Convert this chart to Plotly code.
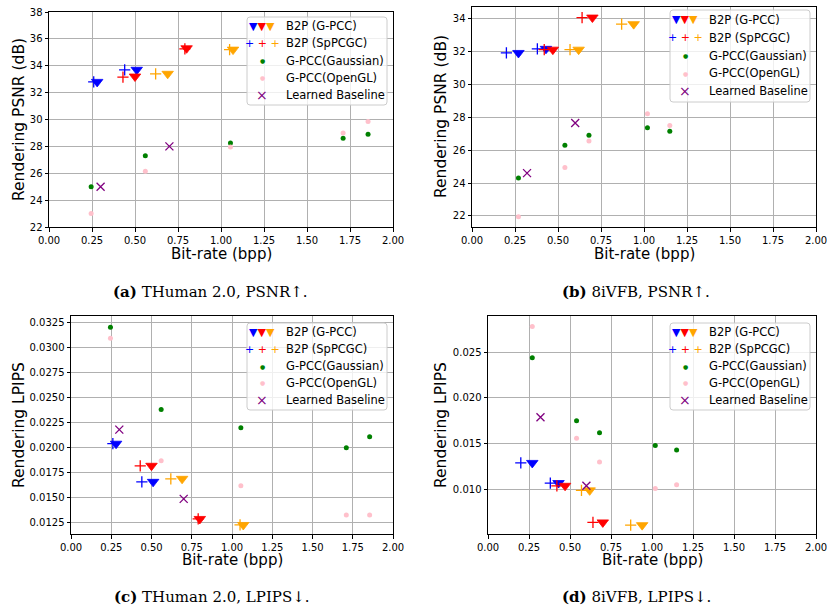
import plotly.graph_objects as go

W, H = 827, 612

# ---------------- data ----------------
# (a) THuman 2.0, PSNR
a_gpcc_blue_x, a_gpcc_blue_y = [0.28, 0.51], [32.8, 33.7]
a_gpcc_red_x, a_gpcc_red_y = [0.50, 0.80], [33.2, 35.3]
a_gpcc_orange_x, a_gpcc_orange_y = [0.69, 1.07], [33.4, 35.2]
a_sp_blue_x, a_sp_blue_y = [0.26, 0.44], [32.8, 33.7]
a_sp_red_x, a_sp_red_y = [0.43, 0.79], [33.15, 35.25]
a_sp_orange_x, a_sp_orange_y = [0.62, 1.05], [33.4, 35.2]
a_gauss_x, a_gauss_y = [0.245, 0.56, 1.055, 1.71, 1.855], [25.0, 27.3, 28.25, 28.6, 28.9]
a_ogl_x, a_ogl_y = [0.245, 0.56, 1.055, 1.71, 1.855], [23.0, 26.15, 27.95, 29.0, 29.85]
a_learn_x, a_learn_y = [0.30, 0.70], [25.0, 28.0]

# (b) 8iVFB, PSNR
b_gpcc_blue_x, b_gpcc_blue_y = [0.27, 0.43], [31.9, 32.15]
b_gpcc_red_x, b_gpcc_red_y = [0.47, 0.70], [32.1, 34.05]
b_gpcc_orange_x, b_gpcc_orange_y = [0.62, 0.94], [32.1, 33.65]
b_sp_blue_x, b_sp_blue_y = [0.20, 0.38], [31.9, 32.15]
b_sp_red_x, b_sp_red_y = [0.42, 0.64], [32.1, 34.05]
b_sp_orange_x, b_sp_orange_y = [0.57, 0.87], [32.1, 33.65]
b_gauss_x, b_gauss_y = [0.27, 0.54, 0.68, 1.02, 1.15], [24.3, 26.3, 26.9, 27.35, 27.15]
b_ogl_x, b_ogl_y = [0.27, 0.54, 0.68, 1.02, 1.15], [21.95, 24.95, 26.55, 28.2, 27.5]
b_learn_x, b_learn_y = [0.32, 0.60], [24.6, 27.65]

# (c) THuman 2.0, LPIPS
c_gpcc_blue_x, c_gpcc_blue_y = [0.28, 0.51], [0.0204, 0.0166]
c_gpcc_red_x, c_gpcc_red_y = [0.50, 0.80], [0.0182, 0.0129]
c_gpcc_orange_x, c_gpcc_orange_y = [0.69, 1.07], [0.0169, 0.0123]
c_sp_blue_x, c_sp_blue_y = [0.26, 0.44], [0.0204, 0.0166]
c_sp_red_x, c_sp_red_y = [0.43, 0.79], [0.0182, 0.0129]
c_sp_orange_x, c_sp_orange_y = [0.62, 1.05], [0.0169, 0.0123]
c_gauss_x, c_gauss_y = [0.245, 0.56, 1.055, 1.71, 1.855], [0.0320, 0.0238, 0.0220, 0.0200, 0.0211]
c_ogl_x, c_ogl_y = [0.245, 0.56, 1.055, 1.71, 1.855], [0.0309, 0.0187, 0.0162, 0.0133, 0.0133]
c_learn_x, c_learn_y = [0.30, 0.70], [0.0218, 0.0149]

# (d) 8iVFB, LPIPS
d_gpcc_blue_x, d_gpcc_blue_y = [0.27, 0.43], [0.0129, 0.0107]
d_gpcc_red_x, d_gpcc_red_y = [0.47, 0.70], [0.0104, 0.0064]
d_gpcc_orange_x, d_gpcc_orange_y = [0.62, 0.94], [0.0099, 0.0061]
d_sp_blue_x, d_sp_blue_y = [0.20, 0.38], [0.0129, 0.0107]
d_sp_red_x, d_sp_red_y = [0.42, 0.64], [0.0104, 0.0064]
d_sp_orange_x, d_sp_orange_y = [0.57, 0.87], [0.0099, 0.0061]
d_gauss_x, d_gauss_y = [0.27, 0.54, 0.68, 1.02, 1.15], [0.0244, 0.0175, 0.0162, 0.0148, 0.0143]
d_ogl_x, d_ogl_y = [0.27, 0.54, 0.68, 1.02, 1.15], [0.0278, 0.0156, 0.0130, 0.0101, 0.0105]
d_learn_x, d_learn_y = [0.32, 0.60], [0.0179, 0.0104]

legend_labels = ["B2P (G-PCC)", "B2P (SpPCGC)", "G-PCC(Gaussian)", "G-PCC(OpenGL)", "Learned Baseline"]
x_title = "Bit-rate (bpp)"
y_titles = {"a": "Rendering PSNR (dB)", "b": "Rendering PSNR (dB)", "c": "Rendering LPIPS", "d": "Rendering LPIPS"}
captions = {"a": "<b>(a)</b> THuman 2.0, PSNR↑.", "b": "<b>(b)</b> 8iVFB, PSNR↑.",
            "c": "<b>(c)</b> THuman 2.0, LPIPS↓.", "d": "<b>(d)</b> 8iVFB, LPIPS↓."}

BLUE, RED, ORANGE = "#0000FF", "#FF0000", "#FFA500"
GREEN, PINK, PURPLE = "#008000", "#FFC0CB", "#800080"

panel_data = {
    "a": [(a_gpcc_blue_x, a_gpcc_blue_y, "tri", BLUE), (a_gpcc_red_x, a_gpcc_red_y, "tri", RED),
          (a_gpcc_orange_x, a_gpcc_orange_y, "tri", ORANGE), (a_sp_blue_x, a_sp_blue_y, "plus", BLUE),
          (a_sp_red_x, a_sp_red_y, "plus", RED), (a_sp_orange_x, a_sp_orange_y, "plus", ORANGE),
          (a_gauss_x, a_gauss_y, "dot", GREEN), (a_ogl_x, a_ogl_y, "dot", PINK),
          (a_learn_x, a_learn_y, "x", PURPLE)],
    "b": [(b_gpcc_blue_x, b_gpcc_blue_y, "tri", BLUE), (b_gpcc_red_x, b_gpcc_red_y, "tri", RED),
          (b_gpcc_orange_x, b_gpcc_orange_y, "tri", ORANGE), (b_sp_blue_x, b_sp_blue_y, "plus", BLUE),
          (b_sp_red_x, b_sp_red_y, "plus", RED), (b_sp_orange_x, b_sp_orange_y, "plus", ORANGE),
          (b_gauss_x, b_gauss_y, "dot", GREEN), (b_ogl_x, b_ogl_y, "dot", PINK),
          (b_learn_x, b_learn_y, "x", PURPLE)],
    "c": [(c_gpcc_blue_x, c_gpcc_blue_y, "tri", BLUE), (c_gpcc_red_x, c_gpcc_red_y, "tri", RED),
          (c_gpcc_orange_x, c_gpcc_orange_y, "tri", ORANGE), (c_sp_blue_x, c_sp_blue_y, "plus", BLUE),
          (c_sp_red_x, c_sp_red_y, "plus", RED), (c_sp_orange_x, c_sp_orange_y, "plus", ORANGE),
          (c_gauss_x, c_gauss_y, "dot", GREEN), (c_ogl_x, c_ogl_y, "dot", PINK),
          (c_learn_x, c_learn_y, "x", PURPLE)],
    "d": [(d_gpcc_blue_x, d_gpcc_blue_y, "tri", BLUE), (d_gpcc_red_x, d_gpcc_red_y, "tri", RED),
          (d_gpcc_orange_x, d_gpcc_orange_y, "tri", ORANGE), (d_sp_blue_x, d_sp_blue_y, "plus", BLUE),
          (d_sp_red_x, d_sp_red_y, "plus", RED), (d_sp_orange_x, d_sp_orange_y, "plus", ORANGE),
          (d_gauss_x, d_gauss_y, "dot", GREEN), (d_ogl_x, d_ogl_y, "dot", PINK),
          (d_learn_x, d_learn_y, "x", PURPLE)],
}

# ---------------- layout geometry (pixels) ----------------
boxes = {"a": (49, 393, 12, 227), "b": (472, 816, 7, 227),
         "c": (71, 393, 316, 534), "d": (488, 816, 316, 534)}
yranges = {"a": [22, 38], "b": [21.33, 34.69], "c": [0.01140, 0.03313], "d": [0.00513, 0.02896]}
ytickvals = {"a": [22, 24, 26, 28, 30, 32, 34, 36, 38],
             "b": [22, 24, 26, 28, 30, 32, 34],
             "c": [0.0125, 0.0150, 0.0175, 0.0200, 0.0225, 0.0250, 0.0275, 0.0300, 0.0325],
             "d": [0.010, 0.015, 0.020, 0.025]}
ytickfmt = {"a": "d", "b": "d", "c": ".4f", "d": ".3f"}
legend_boxes = {"a": (247, 387, 17, 105), "b": (670, 810, 10, 102),
                "c": (247, 387, 323, 410), "d": (670, 810, 323, 410)}
xtitle_pos = {"a": (221, 254), "b": (644, 254), "c": (232, 560), "d": (652, 560)}
ytitle_pos = {"a": (19, 120), "b": (441, 117), "c": (19, 425), "d": (441, 425)}
caption_pos = {"a": (210, 292), "b": (636, 292), "c": (212, 597), "d": (636, 597)}


def px(x):
    return x / W


def py(y):
    return 1 - y / H


fig = go.Figure()
FONT = "DejaVu Sans"
annotations = []
shapes = []

for i, key in enumerate(["a", "b", "c", "d"]):
    n = "" if i == 0 else str(i + 1)
    xa, ya = "x" + n, "y" + n
    for xs, ys, kind, col in panel_data[key]:
        if kind == "tri":
            marker = dict(symbol="triangle-down", size=10, color=col, line=dict(width=0.8, color=col))
        elif kind == "plus":
            marker = dict(symbol="cross-thin", size=8, color=col, line=dict(width=1.3, color=col))
        elif kind == "dot":
            marker = dict(symbol="circle", size=5, color=col, line=dict(width=0))
        else:
            marker = dict(symbol="x-thin", size=8, color=col, line=dict(width=1.3, color=col))
        fig.add_trace(go.Scatter(x=xs, y=ys, mode="markers", marker=marker, showlegend=False,
                                 xaxis=xa, yaxis=ya, cliponaxis=False, hoverinfo="skip"))
    l, r, t, b = boxes[key]
    axis_common = dict(showline=True, mirror=True, linecolor="black", linewidth=1,
                       ticks="outside", ticklen=3.5, tickwidth=1, tickcolor="black",
                       showgrid=True, gridcolor="#b0b0b0", gridwidth=1, zeroline=False,
                       automargin=False, ticklabeloverflow="allow",
                       tickfont=dict(family=FONT, size=10, color="black"))
    fig.layout["xaxis" + n] = dict(domain=[px(l), px(r)], range=[0, 2], tickmode="array",
                                   tickvals=[0, 0.25, 0.5, 0.75, 1.0, 1.25, 1.5, 1.75, 2.0],
                                   tickformat=".2f", anchor=ya, **axis_common)
    fig.layout["yaxis" + n] = dict(domain=[py(b), py(t)], range=yranges[key], tickmode="array",
                                   tickvals=ytickvals[key], tickformat=ytickfmt[key], anchor=xa,
                                   **axis_common)

    # axis titles
    xt = xtitle_pos[key]
    annotations.append(dict(x=px(xt[0]), y=py(xt[1]), xref="paper", yref="paper", text=x_title,
                            showarrow=False, xanchor="center", yanchor="middle",
                            font=dict(family=FONT, size=15, color="black")))
    yt = ytitle_pos[key]
    annotations.append(dict(x=px(yt[0]), y=py(yt[1]), xref="paper", yref="paper", text=y_titles[key],
                            showarrow=False, textangle=-90, xanchor="center", yanchor="middle",
                            font=dict(family=FONT, size=15.5, color="black")))
    cp = caption_pos[key]
    annotations.append(dict(x=px(cp[0]), y=py(cp[1]), xref="paper", yref="paper", text=captions[key],
                            showarrow=False, xanchor="center", yanchor="middle",
                            font=dict(family="DejaVu Serif", size=15, color="black")))

    # legend box
    lx0, lx1, ly0, ly1 = legend_boxes[key]
    rr = 3

    def P(x, y):
        return f"{px(x):.5f},{py(y):.5f}"
    path = (f"M {P(lx0 + rr, ly0)} L {P(lx1 - rr, ly0)} Q {P(lx1, ly0)} {P(lx1, ly0 + rr)} "
            f"L {P(lx1, ly1 - rr)} Q {P(lx1, ly1)} {P(lx1 - rr, ly1)} "
            f"L {P(lx0 + rr, ly1)} Q {P(lx0, ly1)} {P(lx0, ly1 - rr)} "
            f"L {P(lx0, ly0 + rr)} Q {P(lx0, ly0)} {P(lx0 + rr, ly0)} Z")
    shapes.append(dict(type="path", xref="paper", yref="paper", path=path,
                       fillcolor="rgba(255,255,255,0.8)", line=dict(color="#cccccc", width=1),
                       layer="above"))
    row_h = (ly1 - ly0) / 5.15
    mcx = lx0 + 15
    tx = lx0 + 37
    sym_texts = [
        f'<span style="color:{BLUE}">▼</span><span style="color:{RED}">▼</span><span style="color:{ORANGE}">▼</span>',
        f'<span style="color:{BLUE}">+</span> <span style="color:{RED}">+</span> <span style="color:{ORANGE}">+</span>',
        f'<span style="color:{GREEN}">●</span>',
        f'<span style="color:{PINK}">●</span>',
        f'<span style="color:{PURPLE}">×</span>',
    ]
    sym_sizes = [11, 11, 6, 6, 14]
    for k in range(5):
        yy = ly0 + row_h * (k + 0.55)
        annotations.append(dict(x=px(mcx), y=py(yy), xref="paper", yref="paper", text=sym_texts[k],
                                showarrow=False, xanchor="center", yanchor="middle",
                                font=dict(family=FONT, size=sym_sizes[k], color="black")))
        annotations.append(dict(x=px(tx), y=py(yy), xref="paper", yref="paper", text=legend_labels[k],
                                showarrow=False, xanchor="left", yanchor="middle",
                                font=dict(family=FONT, size=11.5, color="black")))

fig.update_layout(width=W, height=H, margin=dict(l=0, r=0, t=0, b=0, pad=0, autoexpand=False),
                  paper_bgcolor="white", plot_bgcolor="white", showlegend=False,
                  annotations=annotations, shapes=shapes)
fig.write_html("out.html", config={"displayModeBar": False},
               post_script="document.body.style.margin='0px';document.body.style.padding='0px';")
